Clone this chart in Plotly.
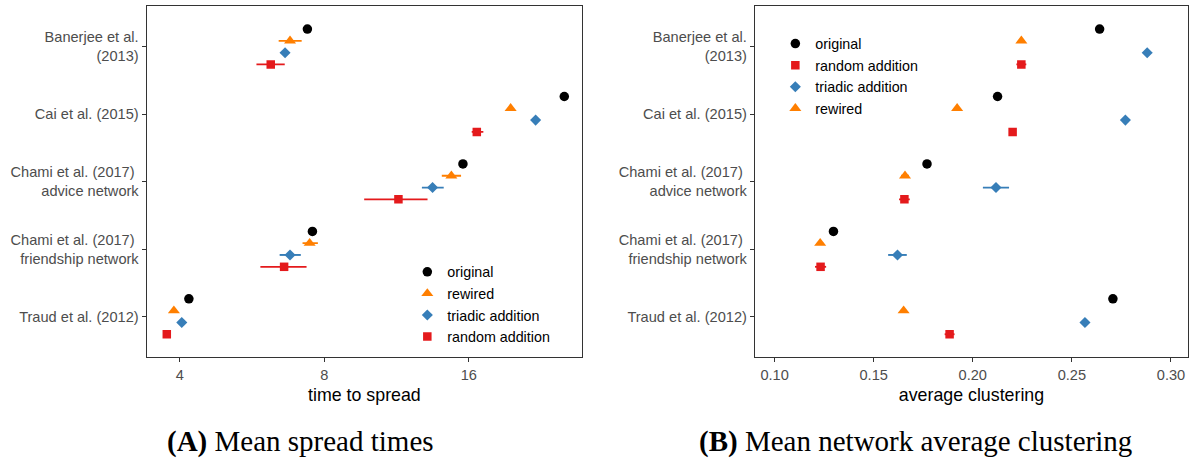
import plotly.graph_objects as go

# Study networks, listed top to bottom
studies = [
    "Banerjee et al.<br>(2013)",
    "Cai et al. (2015)",
    "Chami et al. (2017)\u00a0<br>advice network",
    "Chami et al. (2017)\u00a0<br>friendship network",
    "Traud et al. (2012)",
]

# (A) mean time to spread, with interval bounds for the simulated networks
spread_original = [7.38, 25.3, 15.56, 7.56, 4.18]
spread_rewired = [6.79, 19.56, 14.72, 7.46, 3.89]
spread_rewired_lo = [6.43, 19.30, 14.06, 7.21, 3.85]
spread_rewired_hi = [7.18, 19.82, 15.42, 7.76, 3.93]
spread_triadic = [6.63, 22.05, 13.45, 6.79, 4.04]
spread_triadic_lo = [6.55, 21.80, 12.78, 6.46, 4.00]
spread_triadic_hi = [6.72, 22.30, 14.19, 7.15, 4.08]
spread_random = [6.19, 16.63, 11.42, 6.60, 3.76]
spread_random_lo = [5.78, 16.23, 9.69, 5.89, 3.72]
spread_random_hi = [6.62, 17.16, 13.13, 7.35, 3.80]

# (B) mean average clustering, with half-widths of the intervals
clust_original = [0.2640, 0.2125, 0.1769, 0.1297, 0.2707]
clust_rewired = [0.2245, 0.1921, 0.1658, 0.1230, 0.1651]
clust_rewired_err = [0.0015, 0.0010, 0.0020, 0.0015, 0.0010]
clust_triadic = [0.2880, 0.2770, 0.2117, 0.1620, 0.2566]
clust_triadic_err = [0.0010, 0.0010, 0.0066, 0.0047, 0.0010]
clust_random = [0.2245, 0.2201, 0.1655, 0.1232, 0.1883]
clust_random_err = [0.0025, 0.0015, 0.0027, 0.0028, 0.0025]

spread_ticks = [4, 8, 16]
clust_ticks = [0.10, 0.15, 0.20, 0.25, 0.30]

COLORS = {"original": "#000000", "rewired": "#FF7F00",
          "triadic": "#377EB8", "random": "#E41A1C"}
SYMBOLS = {"original": ("circle", 9.5), "rewired": ("triangle-up", 10.5),
           "triadic": ("diamond", 8.5), "random": ("square", 8.5)}
NAMES = {"original": "original", "rewired": "rewired",
         "triadic": "triadic addition", "random": "random addition"}
# vertical dodge of the four series around each study row
DODGE = {"original": 0.2625, "rewired": 0.0875,
         "triadic": -0.0875, "random": -0.2625}

FONT = "Liberation Sans, Arial, sans-serif"
SERIF = "Liberation Serif, Times New Roman, serif"
n = len(studies)
rows = list(range(n, 0, -1))


def series(key, x, xaxis, yaxis, legend, err_plus=None, err_minus=None):
    sym, size = SYMBOLS[key]
    err = None
    if err_plus is not None:
        err = dict(type="data", symmetric=False, array=err_plus,
                   arrayminus=err_minus, color=COLORS[key],
                   thickness=1.8, width=0)
    return go.Scatter(
        x=x, y=[r + DODGE[key] for r in rows], mode="markers",
        name=NAMES[key], legend=legend, legendgroup=legend + key,
        xaxis=xaxis, yaxis=yaxis, error_x=err,
        marker=dict(symbol=sym, size=size, color=COLORS[key],
                    line=dict(width=0)),
    )


def bounds(val, lo, hi):
    return [h - v for v, h in zip(val, hi)], [v - l for v, l in zip(val, lo)]


fig = go.Figure()

# Panel A
fig.add_trace(series("original", spread_original, "x", "y", "legend"))
p, m = bounds(spread_rewired, spread_rewired_lo, spread_rewired_hi)
fig.add_trace(series("rewired", spread_rewired, "x", "y", "legend", p, m))
p, m = bounds(spread_triadic, spread_triadic_lo, spread_triadic_hi)
fig.add_trace(series("triadic", spread_triadic, "x", "y", "legend", p, m))
p, m = bounds(spread_random, spread_random_lo, spread_random_hi)
fig.add_trace(series("random", spread_random, "x", "y", "legend", p, m))

# Panel B
fig.add_trace(series("original", clust_original, "x2", "y2", "legend2"))
fig.add_trace(series("random", clust_random, "x2", "y2", "legend2",
                     clust_random_err, clust_random_err))
fig.add_trace(series("triadic", clust_triadic, "x2", "y2", "legend2",
                     clust_triadic_err, clust_triadic_err))
fig.add_trace(series("rewired", clust_rewired, "x2", "y2", "legend2",
                     clust_rewired_err, clust_rewired_err))

axis_common = dict(
    showline=True, linecolor="#333333", linewidth=1.3, mirror=True,
    ticks="outside", ticklen=4, tickwidth=1.3, tickcolor="#333333",
    showgrid=False, zeroline=False,
    tickfont=dict(family=FONT, size=14.6, color="#4D4D4D"),
)
y_common = dict(axis_common, range=[0.4, n + 0.6], tickvals=rows,
                ticktext=studies, domain=[0.2289, 0.9864])
title_font = dict(family=FONT, size=17.8, color="#000000")

legend_common = dict(
    font=dict(family=FONT, size=14.3, color="#000000"),
    bgcolor="rgba(0,0,0,0)", borderwidth=0, traceorder="grouped",
    tracegroupgap=0, itemclick=False, itemdoubleclick=False,
    xanchor="left", yanchor="top",
)

caption_font = dict(family=SERIF, size=29, color="#000000")

fig.update_layout(
    width=1191, height=463,
    margin=dict(l=0, r=0, t=0, b=0),
    paper_bgcolor="white", plot_bgcolor="white",
    showlegend=True,
    xaxis=dict(axis_common, type="log", domain=[0.1232, 0.4887],
               range=[0.5334, 1.4401], tickvals=spread_ticks,
               ticktext=[str(t) for t in spread_ticks],
               title=dict(text="time to spread", font=title_font,
                          standoff=6)),
    yaxis=dict(y_common, anchor="x"),
    xaxis2=dict(axis_common, domain=[0.6339, 0.9975],
                range=[0.0901, 0.3086], tickvals=clust_ticks,
                ticktext=["%.2f" % t for t in clust_ticks], anchor="y2",
                title=dict(text="average clustering", font=title_font,
                           standoff=6)),
    yaxis2=dict(y_common, anchor="x2"),
    legend=dict(legend_common, x=0.342, y=0.447),
    legend2=dict(legend_common, x=0.651, y=0.940),
    annotations=[
        dict(text="<b>(A)</b> Mean spread times", x=300 / 1191, y=0.047,
             xref="paper", yref="paper", xanchor="center", yanchor="middle",
             showarrow=False, font=caption_font),
        dict(text="<b>(B)</b> Mean network average clustering",
             x=915 / 1191, y=0.047, xref="paper", yref="paper",
             xanchor="center", yanchor="middle",
             showarrow=False, font=caption_font),
    ],
)

fig.write_html("out.html")
